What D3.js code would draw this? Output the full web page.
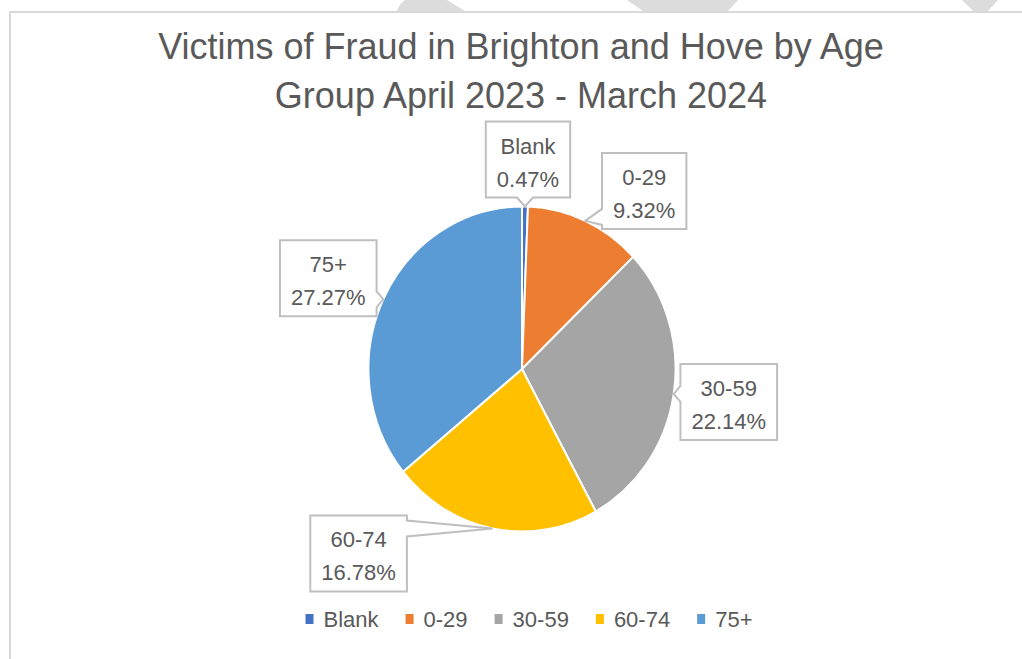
<!DOCTYPE html>
<html>
<head>
<meta charset="utf-8">
<script src="https://cdn.jsdelivr.net/npm/d3@7"></script>
<style>
    body { margin: 0; background: #ffffff; }
    text { font-family: "Liberation Sans", Arial, sans-serif; fill: #595959; }
</style>
</head>
<body>
<div id="mainplot"></div>
<script>
// Chart data
var titleLines = ["Victims of Fraud in Brighton and Hove by Age", "Group April 2023 - March 2024"];
var categories = ["Blank", "0-29", "30-59", "60-74", "75+"];
var percents   = [0.47, 9.32, 22.14, 16.78, 27.27];

// Styles
var colours = ["#4472c4", "#ed7d31", "#a5a5a5", "#ffc000", "#5b9bd5"];

var width = 1022, height = 659;
var cx = 522, cy = 369, radius = 162.5, squash = 0.945;

// where each callout box sits relative to the point it points at (layout only)
var labelOffset = {
    "Blank": {dx: 3,    dy: -47},
    "0-29":  {dx: 59,   dy: -30},
    "30-59": {dx: 55,   dy: 8},
    "60-74": {dx: -134, dy: 25},
    "75+":   {dx: -55,  dy: -21}
};

var outer = d3.select('#mainplot').append('svg')
    .attr('width', width)
    .attr('height', height);

outer.append('rect')
    .attr('width', width)
    .attr('height', height)
    .attr('fill', '#ffffff');

// watermark bits peeking above the chart frame
var marks = [
    "M397,11 C399,5 402,2 405,0 L447,0 L465,11 Z",
    "M627,0 L738,0 L728,11 L643,11 Z",
    "M962,0 L998,0 L988,11 L973,11 Z"
];
outer.selectAll('path.mark').data(marks).enter().append('path')
    .attr('class', 'mark')
    .attr('d', function(d) { return d; })
    .attr('fill', '#dcdcdc');

// chart frame (top + left edges visible)
outer.append('path')
    .attr('d', 'M10,' + height + ' L10,12 L' + width + ',12')
    .attr('fill', 'none')
    .style('stroke', '#d9d9d9')
    .style('stroke-width', 2);

// Title
outer.selectAll('text.title').data(titleLines).enter().append('text')
    .attr('class', 'title')
    .attr('x', 521)
    .attr('y', function(d, i) { return 59 + i * 49; })
    .style('text-anchor', 'middle')
    .style('font-size', '36px')
    .text(function(d) { return d; });

// Pie
var pie = d3.pie().value(function(d) { return d; }).sort(null);
var arcs = pie(percents);
var arc = d3.arc().innerRadius(0).outerRadius(radius);

var inner = outer.append('g')
    .attr('transform', 'translate(' + cx + ',' + cy + ') scale(' + squash + ',1)');

inner.selectAll('path').data(arcs).enter().append('path')
    .attr('d', arc)
    .attr('fill', function(d, i) { return colours[i]; })
    .style('stroke', '#ffffff')
    .style('stroke-width', 2)
    .attr('vector-effect', 'non-scaling-stroke');

// Callout labels
function calloutPath(x0, y0, x1, y1, tx, ty) {
    var hw = 8, side, c;
    function clamp(v, lo, hi) { return Math.max(lo, Math.min(hi, v)); }
    if (ty > y1) side = 'b';
    else if (ty < y0) side = 't';
    else if (tx < x0) side = 'l';
    else side = 'r';
    var p = [];
    if (side == 't') { c = clamp(tx, x0 + 12, x1 - 12); p = [[x0,y0],[c-hw,y0],[tx,ty],[c+hw,y0],[x1,y0],[x1,y1],[x0,y1]]; }
    if (side == 'r') { c = clamp(ty, y0 + 12, y1 - 12); p = [[x0,y0],[x1,y0],[x1,c-hw],[tx,ty],[x1,c+hw],[x1,y1],[x0,y1]]; }
    if (side == 'b') { c = clamp(tx, x0 + 12, x1 - 12); p = [[x0,y0],[x1,y0],[x1,y1],[c+hw,y1],[tx,ty],[c-hw,y1],[x0,y1]]; }
    if (side == 'l') { c = clamp(ty, y0 + 12, y1 - 12); p = [[x0,y0],[x1,y0],[x1,y1],[x0,y1],[x0,c+hw],[tx,ty],[x0,c-hw]]; }
    return 'M' + p.map(function(q) { return q[0] + ',' + q[1]; }).join('L') + 'Z';
}

arcs.forEach(function(a, i) {
    var name = categories[i];
    var mid = (a.startAngle + a.endAngle) / 2;
    var tx = cx + squash * radius * Math.sin(mid);
    var ty = cy - radius * Math.cos(mid);
    var bx = tx + labelOffset[name].dx;
    var by = ty + labelOffset[name].dy;

    var lab = outer.append('g').attr('class', 'label');
    var box = lab.append('path');

    var lines = [name, percents[i].toFixed(2) + '%'];
    var maxw = 0;
    lines.forEach(function(t, j) {
        var tt = lab.append('text')
            .attr('x', bx)
            .attr('y', by + (j == 0 ? -6 : 27))
            .style('text-anchor', 'middle')
            .style('font-size', '22px')
            .text(t);
        maxw = Math.max(maxw, tt.node().getComputedTextLength());
    });

    var bw = maxw + 22, bh = 76;
    box.attr('d', calloutPath(bx - bw/2, by - bh/2, bx + bw/2, by + bh/2, tx, ty))
        .attr('fill', '#ffffff')
        .style('stroke', '#bfbfbf')
        .style('stroke-width', 2);
});

// Legend
var legend = outer.append('g');
var lx = 0;
categories.forEach(function(c, i) {
    legend.append('rect')
        .attr('x', lx)
        .attr('y', 614)
        .attr('width', 8)
        .attr('height', 10)
        .attr('fill', colours[i]);
    var t = legend.append('text')
        .attr('x', lx + 18)
        .attr('y', 627)
        .style('font-size', '22px')
        .text(c);
    lx += 18 + t.node().getComputedTextLength() + 27;
});
lx -= 27;
legend.attr('transform', 'translate(' + (529 - lx/2) + ',0)');
</script>
</body>
</html>
